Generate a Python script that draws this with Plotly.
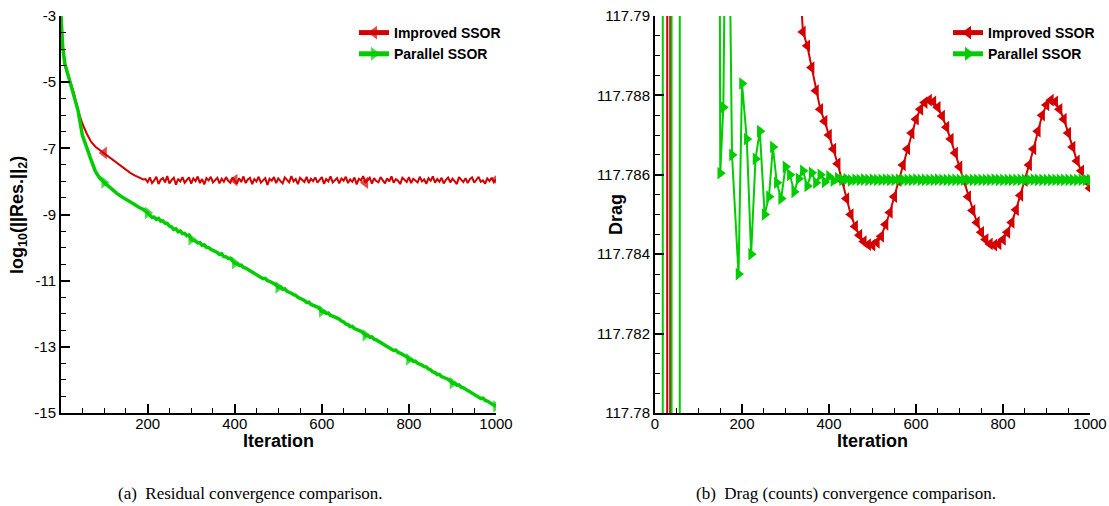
import plotly.graph_objects as go

# ---------------- Left panel: residual (log10) ----------------
imp_res_iter_early = [1, 5, 10, 20, 30, 40, 50, 60, 70, 80, 90, 100, 110, 120, 130, 140, 150, 160, 170, 180, 190]
imp_res_early = [-3.0, -4.0, -4.5, -4.9, -5.3, -5.85, -6.25, -6.55, -6.8, -6.95, -7.05, -7.14, -7.24, -7.33,
                 -7.45, -7.55, -7.65, -7.74, -7.82, -7.89, -7.94]
imp_res_iter_late = list(range(195, 1001, 5))
imp_res_late = [
    -7.93, -8.02, -7.88, -8.05, -7.97, -7.86, -8.08, -7.95, -7.90, -8.03,
    -7.84, -8.06, -7.96, -7.89, -8.10, -7.92, -8.00, -7.87, -8.04, -7.94,
    -7.88, -8.07, -7.91, -7.99, -7.85, -8.05, -7.93, -8.09, -7.90, -7.97,
    -7.86, -8.03, -7.95, -7.89, -8.06, -7.92, -8.01, -7.87, -7.98, -8.04,
    -7.88, -7.96, -8.07, -7.90, -8.02, -7.85, -8.05, -7.94, -7.89, -8.08,
    -7.93, -8.00, -7.86, -8.04, -7.96, -7.90, -8.11, -7.92, -7.98, -7.87,
    -8.05, -7.91, -7.99, -8.06, -7.88, -7.95, -8.03, -7.84, -8.00, -7.93,
    -8.08, -7.89, -7.97, -8.02, -7.86, -8.05, -7.92, -7.99, -7.88, -8.04,
    -7.95, -7.87, -8.07, -7.93, -8.00, -7.85, -8.03, -7.96, -7.90, -8.06,
    -7.91, -7.98, -7.86, -8.05, -7.94, -8.01, -7.88, -8.09, -7.92, -7.97,
    -7.84, -8.04, -7.95, -7.89, -8.07, -7.90, -7.99, -8.03, -7.87, -7.96,
    -8.06, -7.91, -8.00, -7.85, -8.04, -7.93, -7.98, -8.08, -7.89, -7.95,
    -8.02, -7.87, -8.05, -7.92, -7.97, -8.03, -7.86, -8.00, -7.94, -8.07,
    -7.90, -7.98, -7.85, -8.04, -7.93, -8.01, -7.89, -8.06, -7.95, -7.88,
    -8.03, -7.92, -7.99, -8.08, -7.87, -7.96, -8.02, -7.90, -8.05, -7.93,
    -7.88, -8.04, -7.95, -7.86, -8.01, -7.97, -8.07, -7.91, -7.99, -7.89,
    -8.03, -7.94,
]

par_res_iter_early = [1, 5, 10, 20, 30, 40, 50, 60, 70, 80, 90, 100, 110, 120, 130, 140, 150, 160, 170, 180, 190, 200]
par_res_early = [-3.0, -3.95, -4.45, -4.95, -5.35, -5.85, -6.6, -7.0, -7.35, -7.7, -7.9, -8.03, -8.15, -8.27,
                 -8.37, -8.46, -8.55, -8.63, -8.7, -8.78, -8.85, -8.95]
par_res_iter_late = list(range(205, 1001, 5))
par_res_late = [
    -9.02, -9.09, -9.08, -9.15, -9.12, -9.20, -9.19, -9.26, -9.27, -9.35,
    -9.38, -9.45, -9.43, -9.52, -9.50, -9.58, -9.57, -9.64, -9.62, -9.75,
    -9.78, -9.80, -9.86, -9.85, -9.93, -9.92, -9.99, -10.00, -10.05, -10.08,
    -10.13, -10.15, -10.21, -10.19, -10.27, -10.28, -10.33, -10.32, -10.40, -10.47,
    -10.48, -10.54, -10.53, -10.60, -10.62, -10.66, -10.70, -10.72, -10.78, -10.80,
    -10.86, -10.88, -10.94, -10.93, -11.00, -11.02, -11.06, -11.07, -11.13, -11.20,
    -11.19, -11.26, -11.25, -11.32, -11.34, -11.38, -11.42, -11.44, -11.50, -11.53,
    -11.58, -11.60, -11.66, -11.65, -11.72, -11.74, -11.78, -11.80, -11.85, -11.93,
    -11.93, -11.99, -11.98, -12.05, -12.07, -12.10, -12.15, -12.16, -12.22, -12.25,
    -12.31, -12.33, -12.39, -12.38, -12.45, -12.47, -12.51, -12.53, -12.58, -12.65,
    -12.65, -12.71, -12.70, -12.77, -12.79, -12.83, -12.87, -12.88, -12.94, -12.97,
    -13.03, -13.05, -13.11, -13.10, -13.17, -13.19, -13.23, -13.25, -13.30, -13.38,
    -13.38, -13.44, -13.43, -13.50, -13.52, -13.55, -13.60, -13.61, -13.67, -13.70,
    -13.76, -13.78, -13.84, -13.83, -13.90, -13.92, -13.96, -13.98, -14.03, -14.10,
    -14.10, -14.16, -14.15, -14.22, -14.24, -14.28, -14.32, -14.33, -14.39, -14.42,
    -14.48, -14.50, -14.56, -14.55, -14.62, -14.64, -14.68, -14.70, -14.75, -14.80,
]

imp_res_marker_iters = [100, 400, 700, 1000]
par_res_marker_iters = [100, 200, 300, 400, 500, 600, 700, 800, 900, 1000]

res_tickvals = [-3, -5, -7, -9, -11, -13, -15]
res_ticktext = ["-3", "-5", "-7", "-9", "-11", "-13", "-15"]

# ---------------- Right panel: drag ----------------
imp_drag_iter = [1, 27, 29, 34, 36, 100, 200, 300, 330,
                 340, 350, 360, 370, 380, 390, 400, 410, 420, 430,
                 440, 450, 460, 470, 480, 490, 500, 510, 520, 530,
                 540, 550, 560, 570, 580, 590, 600, 610, 620, 630,
                 640, 650, 660, 670, 680, 690, 700, 710, 720, 730,
                 740, 750, 760, 770, 780, 790, 800, 810, 820, 830,
                 840, 850, 860, 870, 880, 890, 900, 910, 920, 930,
                 940, 950, 960, 970, 980, 990, 1000]
imp_drag = [118.3, 118.2, 117.4, 117.4, 118.2, 117.9, 117.82, 117.795, 117.7915,
            117.78960, 117.78925, 117.78870, 117.78812, 117.78765, 117.78735, 117.78700, 117.78665, 117.78628, 117.78585,
            117.78540, 117.78500, 117.78470, 117.78448, 117.78432, 117.78424, 117.78423, 117.78430, 117.78445, 117.78475,
            117.78505, 117.78545, 117.78585, 117.78625, 117.78665, 117.78705, 117.78740, 117.78765, 117.78782, 117.78788,
            117.78784, 117.78770, 117.78748, 117.78720, 117.78690, 117.78655, 117.78620, 117.78585, 117.78545, 117.78510,
            117.78480, 117.78455, 117.78437, 117.78426, 117.78423, 117.78426, 117.78437, 117.78455, 117.78480, 117.78512,
            117.78548, 117.78585, 117.78625, 117.78665, 117.78710, 117.78750, 117.78776, 117.78788, 117.78784, 117.78765,
            117.78740, 117.78705, 117.78670, 117.78635, 117.78610, 117.78585, 117.78566]

par_drag_iter = [1, 17, 19, 37, 39, 56, 58, 100, 145,
                 150, 157, 166, 177, 192, 200, 211, 221, 231, 241,
                 252, 262, 271, 280, 290, 300, 310, 320, 330, 340,
                 350, 360, 370, 380, 390, 400, 410, 420, 430,
                 440, 450, 460, 470, 480, 490, 500, 510, 520, 530,
                 540, 550, 560, 570, 580, 590, 600, 610, 620, 630,
                 640, 650, 660, 670, 680, 690, 700, 710, 720, 730,
                 740, 750, 760, 770, 780, 790, 800, 810, 820, 830,
                 840, 850, 860, 870, 880, 890, 900, 910, 920, 930,
                 940, 950, 960, 970, 980, 990, 1000]
par_drag = [117.5, 117.5, 118.2, 118.2, 117.4, 117.4, 118.2, 118.0, 117.81,
            117.78604, 117.78770, 117.79700, 117.78650, 117.78350, 117.78830, 117.78690, 117.78400, 117.78640, 117.78710,
            117.78500, 117.78545, 117.78670, 117.78580, 117.78540, 117.78620, 117.78600, 117.78557, 117.78590, 117.78610,
            117.78572, 117.78605, 117.78580, 117.78600, 117.78582, 117.78596, 117.78585, 117.78592, 117.78587,
            117.78589, 117.78586, 117.78588, 117.78587, 117.78588, 117.78587, 117.78588, 117.78587, 117.78587, 117.78588,
            117.78587, 117.78587, 117.78588, 117.78587, 117.78587, 117.78587, 117.78588, 117.78587, 117.78587, 117.78587,
            117.78587, 117.78588, 117.78587, 117.78587, 117.78587, 117.78587, 117.78587, 117.78588, 117.78587, 117.78587,
            117.78587, 117.78587, 117.78587, 117.78587, 117.78588, 117.78587, 117.78587, 117.78587, 117.78587, 117.78587,
            117.78587, 117.78587, 117.78587, 117.78588, 117.78587, 117.78587, 117.78587, 117.78587, 117.78587, 117.78587,
            117.78587, 117.78587, 117.78587, 117.78587, 117.78587, 117.78587, 117.78587]

drag_tickvals = [117.78, 117.782, 117.784, 117.786, 117.788, 117.79]
drag_ticktext = ["117.78", "117.782", "117.784", "117.786", "117.788", "117.79"]

series_names = ["Improved SSOR", "Parallel SSOR"]
x_title = "Iteration"
y_titles = ["log<sub>10</sub>(||Res.||<sub>2</sub>)", "Drag"]
captions = ["(a)\u2002Residual convergence comparison.", "(b)\u2002Drag (counts) convergence comparison."]

RED = "#d20000"
GREEN = "#00cc00"
FONT = "Liberation Sans, Arial, Helvetica, sans-serif"
SERIF = "Liberation Serif, Times New Roman, serif"

W, H = 1109, 506
def px_x(p):
    return p / W
def px_y(p):
    return 1 - p / H

imp_res_iter = imp_res_iter_early + imp_res_iter_late
imp_res = imp_res_early + imp_res_late
par_res_iter = par_res_iter_early + par_res_iter_late
par_res = par_res_early + par_res_late

imp_sizes = [11 if it in imp_res_marker_iters else 0 for it in imp_res_iter]
par_sizes = [11 if it in par_res_marker_iters else 0 for it in par_res_iter]

fig = go.Figure()

fig.add_trace(go.Scatter(
    x=imp_res_iter, y=imp_res, name=series_names[0], mode="lines+markers",
    line=dict(color=RED, width=2),
    marker=dict(symbol="triangle-left", size=imp_sizes, color=RED, line=dict(width=0)),
    xaxis="x", yaxis="y", legend="legend"))
fig.add_trace(go.Scatter(
    x=par_res_iter, y=par_res, name=series_names[1], mode="lines+markers",
    line=dict(color=GREEN, width=3.5),
    marker=dict(symbol="triangle-right", size=par_sizes, color=GREEN, line=dict(width=0)),
    xaxis="x", yaxis="y", legend="legend"))

fig.add_trace(go.Scatter(
    x=imp_drag_iter, y=imp_drag, name=series_names[0], mode="lines+markers",
    line=dict(color=RED, width=2),
    marker=dict(symbol="triangle-left", size=11, color=RED, line=dict(width=0)),
    xaxis="x2", yaxis="y2", legend="legend2"))
fig.add_trace(go.Scatter(
    x=par_drag_iter, y=par_drag, name=series_names[1], mode="lines+markers",
    line=dict(color=GREEN, width=2),
    marker=dict(symbol="triangle-right", size=11, color=GREEN, line=dict(width=0)),
    xaxis="x2", yaxis="y2", legend="legend2"))

tickfont = dict(family=FONT, size=15, color="black")
titlefont = dict(family=FONT, size=18, color="black", weight="bold")


def xaxis_cfg(domain, rng, anchor):
    return dict(domain=domain, range=rng, anchor=anchor, tickmode="linear", tick0=0, dtick=200,
                ticks="inside", ticklen=9, tickwidth=2, automargin=False, ticklabelstandoff=-4,
                tickcolor="black", showline=True, linewidth=2, linecolor="black", showgrid=False,
                zeroline=False, tickfont=tickfont,
                minor=dict(ticks="inside", ticklen=5, tickwidth=1, tickcolor="black", tickmode="linear",
                           dtick=50, tick0=0, showgrid=False))


def yaxis_cfg(domain, rng, tickvals, ticktext, tick0, mdtick, anchor):
    return dict(domain=domain, range=rng, anchor=anchor, tickmode="array", tickvals=tickvals, ticktext=ticktext,
                ticks="inside", ticklen=9, tickwidth=2, automargin=False,
                tickcolor="black", showline=True, linewidth=2, linecolor="black", showgrid=False,
                zeroline=False, tickfont=tickfont,
                minor=dict(ticks="inside", ticklen=5, tickwidth=1, tickcolor="black", tickmode="linear",
                           dtick=mdtick, tick0=tick0, showgrid=False))


ydom = [px_y(413), px_y(16)]
legfont = dict(family=FONT, size=14, color="black", weight="bold")


def paper_text(text, x, y, font, angle=0):
    return dict(text=text, x=px_x(x), y=px_y(y), xref="paper", yref="paper", showarrow=False,
                xanchor="center", yanchor="middle", textangle=angle, font=font)


fig.update_layout(
    width=W, height=H,
    margin=dict(l=0, r=0, t=0, b=0, autoexpand=False),
    paper_bgcolor="white", plot_bgcolor="white",
    xaxis=xaxis_cfg([px_x(61), px_x(496)], [1, 1000], "y"),
    yaxis=yaxis_cfg(ydom, [-15, -3], res_tickvals, res_ticktext, -3, 0.5, "x"),
    xaxis2=xaxis_cfg([px_x(655), px_x(1090)], [0, 1000], "y2"),
    yaxis2=yaxis_cfg(ydom, [117.78, 117.79], drag_tickvals, drag_ticktext, 117.78, 0.0005, "x2"),
    legend=dict(x=px_x(354), y=px_y(17), xanchor="left", yanchor="top", font=legfont,
                bgcolor="rgba(0,0,0,0)", itemsizing="constant", tracegroupgap=0),
    legend2=dict(x=px_x(948), y=px_y(17), xanchor="left", yanchor="top", font=legfont,
                 bgcolor="rgba(0,0,0,0)", itemsizing="constant", tracegroupgap=0),
    showlegend=True,
    annotations=[
        paper_text(x_title, 278.5, 441, titlefont),
        paper_text(x_title, 872.5, 441, titlefont),
        paper_text(y_titles[0], 18, 215, titlefont, -90),
        paper_text(y_titles[1], 616, 215, titlefont, -90),
        paper_text(captions[0], 250, 493, dict(family=SERIF, size=17, color="black")),
        paper_text(captions[1], 846, 493, dict(family=SERIF, size=17, color="black")),
    ],
)

fig.write_html("out.html")
